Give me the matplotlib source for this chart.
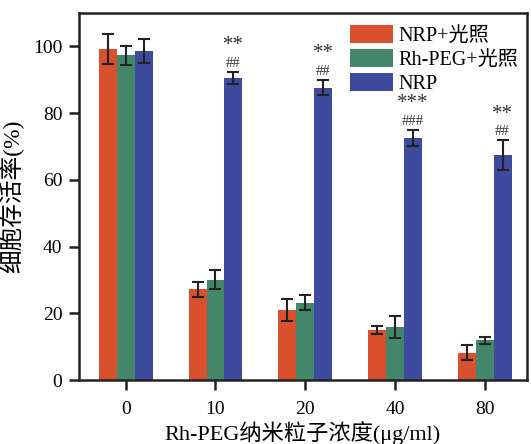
import matplotlib.pyplot as plt
import numpy as np

plt.rcParams['font.family'] = ['Liberation Serif', 'Noto Sans CJK SC']

concs = ["0", "10", "20", "40", "80"]
series_names = ["NRP+光照", "Rh-PEG+光照", "NRP"]
colors = ["#D9502E", "#44866A", "#3D4A9E"]

nrp_light = [99.1, 27.2, 21.1, 15.1, 8.2]
nrp_light_err = [4.5, 2.3, 3.3, 1.2, 2.3]
peg_light = [97.3, 30.1, 23.2, 15.8, 11.9]
peg_light_err = [2.8, 2.8, 2.2, 3.3, 1.1]
nrp = [98.6, 90.6, 87.6, 72.5, 67.4]
nrp_err = [3.6, 1.8, 2.3, 2.5, 4.4]

stars = ["", "**", "**", "***", "**"]
hashes = ["", "##", "##", "###", "##"]

values = [nrp_light, peg_light, nrp]
errors = [nrp_light_err, peg_light_err, nrp_err]

fig = plt.figure(figsize=(5.31, 4.44), dpi=100)
ax = fig.add_axes([0.149, 0.144, 0.843, 0.827])

x = np.arange(len(concs))
w = 0.2
for i, (vals, errs) in enumerate(zip(values, errors)):
  ax.bar(x + (i - 1) * w, vals, w, yerr=errs, color=colors[i], label=series_names[i],
         error_kw=dict(ecolor="#222222", elinewidth=1.5, capsize=4, capthick=1.5))

# significance marks over the NRP bars
for xi, v, e, s, h in zip(x, nrp, nrp_err, stars, hashes):
  if not s:
    continue
  ax.text(xi + w, v + e + 0.6, h, ha="center", va="bottom", fontsize=10.5, color="#333333")
  ax.text(xi + w, v + e + 5.0, s, ha="center", va="bottom", fontsize=15,
          color="#333333")

ax.set_xlim(-0.52, 4.47)
ax.set_ylim(0, 110)
ax.set_xticks(x)
ax.set_xticklabels(concs)
ax.set_yticks([0, 20, 40, 60, 80, 100])
ax.tick_params(axis="both", labelsize=14, width=1.8, length=7, color="#222222")
ax.tick_params(axis="x", pad=8)
ax.tick_params(axis="y", pad=5)
for sp in ax.spines.values():
  sp.set_linewidth(1.8)
  sp.set_color("#222222")

ax.set_xlabel("Rh-PEG纳米粒子浓度(μg/ml)", fontsize=16, labelpad=2)
ax.set_ylabel("细胞存活率(%)", fontsize=17, labelpad=6)

ax.legend(loc="upper right", bbox_to_anchor=(1.0, 0.989), frameon=False, fontsize=14.5,
          handlelength=2.1, handleheight=1.0, labelspacing=0.15, handletextpad=0.3,
          borderaxespad=0.0)

plt.savefig("out.png", dpi=100)
